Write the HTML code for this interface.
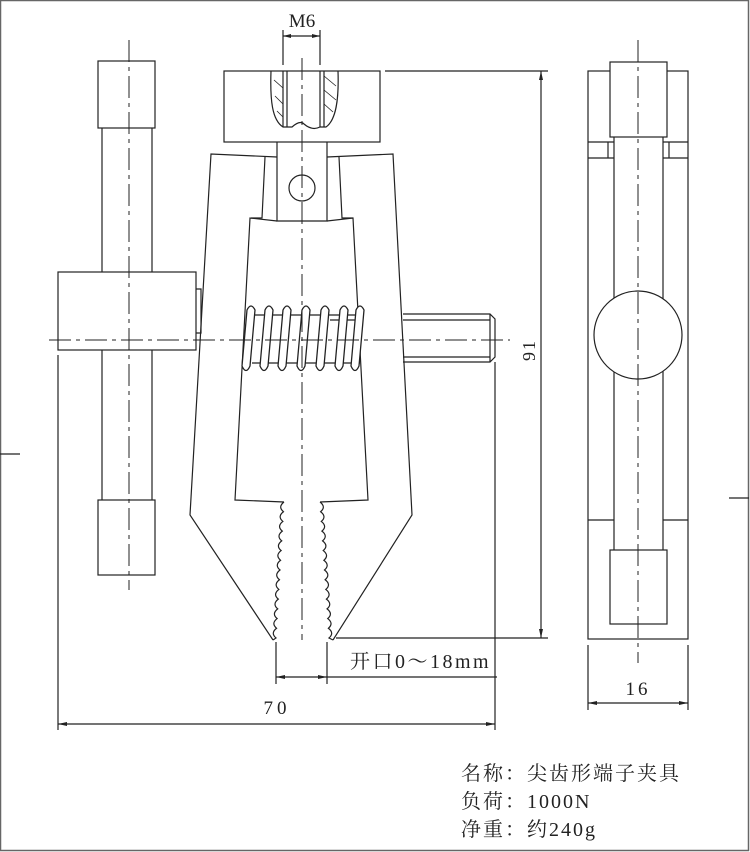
<!DOCTYPE html>
<html><head><meta charset="utf-8"><style>
html,body{margin:0;padding:0;background:#fff}
svg{display:block}
text{font-family:"Liberation Serif","Noto Serif CJK SC",serif;fill:#222}
</style></head><body>
<svg id="s" width="750" height="852" viewBox="0 0 750 852" xmlns="http://www.w3.org/2000/svg">
<g fill="none" stroke="#222" stroke-width="1.2">
<rect x="0.5" y="0.5" width="748" height="850" stroke="#666" stroke-width="1.5"/>
<line x1="0" y1="454" x2="20" y2="454"/>
<line x1="729" y1="498" x2="749" y2="498"/>

<rect x="98" y="61" width="57" height="67"/>
<line x1="102" y1="128" x2="102" y2="272"/><line x1="152" y1="128" x2="152" y2="272"/>
<rect x="58" y="272" width="138" height="78"/>
<line x1="102" y1="350" x2="102" y2="500"/><line x1="152" y1="350" x2="152" y2="500"/>
<rect x="98" y="500" width="57" height="75"/>
<line x1="58" y1="355" x2="58" y2="730"/>
<polyline points="196,289 201,289 201,333 196,333"/>

<rect x="224" y="71" width="156" height="71"/>
<path d="M271 71 C270 100 272 120 283 127 L292 127 Q300 120 304 124 Q312 131 320 127 L326 127 C336 120 339 100 338 71"/>
<line x1="283" y1="71" x2="283" y2="127"/><line x1="287" y1="71" x2="287" y2="127"/>
<line x1="320" y1="71" x2="320" y2="127"/><line x1="324" y1="71" x2="324" y2="127"/>
<g stroke-width="0.8"><line x1="274" y1="80" x2="283" y2="88"/><line x1="275" y1="96" x2="283" y2="104"/><line x1="277" y1="111" x2="283" y2="117"/>
<line x1="324" y1="76" x2="336" y2="86"/><line x1="324" y1="90" x2="336" y2="100"/><line x1="324" y1="104" x2="333" y2="112"/></g>
<line x1="283" y1="30" x2="283" y2="65"/><line x1="320" y1="30" x2="320" y2="65"/>
<line x1="283" y1="36" x2="320" y2="36"/>
<polyline points="277,142 277,221 327,221 327,142"/>
<circle cx="302" cy="188" r="13"/>
<polyline points="277,157 211,154 190,515 273,640"/>
<polyline points="327,157 393,154 412,515 333,640"/>
<polyline points="265,157 262,218 251,218"/>
<polyline points="339,157 342,218 353,218"/>
<polyline points="277,221 250,218 235,500 284,502"/>
<polyline points="327,221 353,218 368,500 320,502"/>
<path id="tl"/><path id="tr"/>
<line x1="252" y1="315" x2="360" y2="315"/><line x1="252" y1="363" x2="360" y2="363"/>
<line x1="330" y1="320" x2="358" y2="320"/>
<g id="spr" stroke-width="1.3"></g>
<polyline points="403,314 490,314 495,319 495,357 490,362 403,362"/>
<line x1="403" y1="320" x2="490" y2="320"/><line x1="403" y1="357" x2="490" y2="357"/>
<line x1="490" y1="314" x2="490" y2="362"/>

<line x1="385" y1="71" x2="548" y2="71"/>
<line x1="336" y1="638" x2="548" y2="638"/>
<line x1="541" y1="71" x2="541" y2="638"/>
<line x1="495" y1="362" x2="495" y2="730"/>
<line x1="276" y1="642" x2="276" y2="684"/><line x1="327" y1="642" x2="327" y2="684"/>
<line x1="276" y1="677" x2="497" y2="677"/>
<line x1="58" y1="724" x2="495" y2="724"/>

<rect x="588" y="71" width="100" height="568"/>
<rect x="610" y="62" width="57" height="75" fill="#fff"/>
<line x1="588" y1="142" x2="614" y2="142"/><line x1="588" y1="158" x2="614" y2="158"/>
<line x1="663" y1="142" x2="688" y2="142"/><line x1="663" y1="158" x2="688" y2="158"/>
<line x1="608" y1="142" x2="608" y2="158"/><line x1="669" y1="142" x2="669" y2="158"/>
<line x1="614" y1="137" x2="614" y2="550"/><line x1="663" y1="137" x2="663" y2="550"/>
<circle cx="638" cy="335" r="44" fill="#fff"/>
<line x1="588" y1="520" x2="614" y2="520"/><line x1="663" y1="520" x2="688" y2="520"/>
<rect x="610" y="550" width="57" height="74"/>
<line x1="588" y1="645" x2="588" y2="710"/><line x1="688" y1="645" x2="688" y2="710"/>
<line x1="588" y1="703" x2="688" y2="703"/>
</g>
<g stroke="#222" stroke-width="1" stroke-dasharray="22,5,4,5" fill="none">
<line x1="129" y1="40" x2="129" y2="590"/>
<line x1="302" y1="58" x2="302" y2="640"/>
<line x1="638" y1="40" x2="638" y2="663"/>
<line x1="49" y1="340" x2="510" y2="340"/>
</g>
<g fill="#222">
<polygon points="283,36 291,34 291,38"/><polygon points="320,36 312,34 312,38"/>
<polygon points="541,71 539,80 543,80"/><polygon points="541,638 539,629 543,629"/>
<polygon points="276,677 285,675 285,679"/><polygon points="327,677 318,675 318,679"/>
<polygon points="58,724 67,722 67,726"/><polygon points="495,724 486,722 486,726"/>
<polygon points="588,703 597,701 597,705"/><polygon points="688,703 679,701 679,705"/>
</g>
<text x="302" y="27" font-size="19" text-anchor="middle">M6</text>
<text x="0" y="0" font-size="18" text-anchor="middle" letter-spacing="2" transform="translate(535,350) rotate(-90)">91</text>
<text x="350" y="668" font-size="20" letter-spacing="2.5">开口0～18mm</text>
<text x="277" y="714" font-size="19" text-anchor="middle" letter-spacing="4">70</text>
<text x="638" y="695" font-size="19" text-anchor="middle" letter-spacing="3">16</text>
<g font-size="20" letter-spacing="2">
<text x="461" y="780">名称：尖齿形端子夹具</text>
<text x="461" y="808">负荷：1000N</text>
<text x="461" y="836">净重：约240g</text>
</g>
</svg>
<script>
(function(){
 function teeth(x0,x1,y0,y1,dir){
  var n=14,d="M"+x0+" "+y0,h=(y1-y0)/n;
  for(var i=0;i<n;i++){var t=(i+0.5)/n,x=x0+(x1-x0)*t,ya=y0+h*i;
   d+=" Q"+(x+dir*6)+" "+(ya+h/2)+" "+(x0+(x1-x0)*(i+1)/n)+" "+(ya+h);}
  return d;}
 document.getElementById('tl').setAttribute('d',teeth(284,276,502,638,-1)+" L273 640");
 document.getElementById('tr').setAttribute('d',teeth(320,329,502,638,1)+" L333 640");
 var g=document.getElementById('spr'),xs=[248,266,284,303,322,341,357];
 xs.forEach(function(x){
  var p=document.createElementNS('http://www.w3.org/2000/svg','path');
  p.setAttribute('d','M'+(x-6)+' 366 L'+(x-1)+' 310 Q'+(x+3)+' 302 '+(x+7)+' 310 L'+(x+2)+' 366 Q'+(x-2)+' 375 '+(x-6)+' 366Z');
  p.setAttribute('fill','#fff');g.appendChild(p);});
})();
</script>
</body></html>
